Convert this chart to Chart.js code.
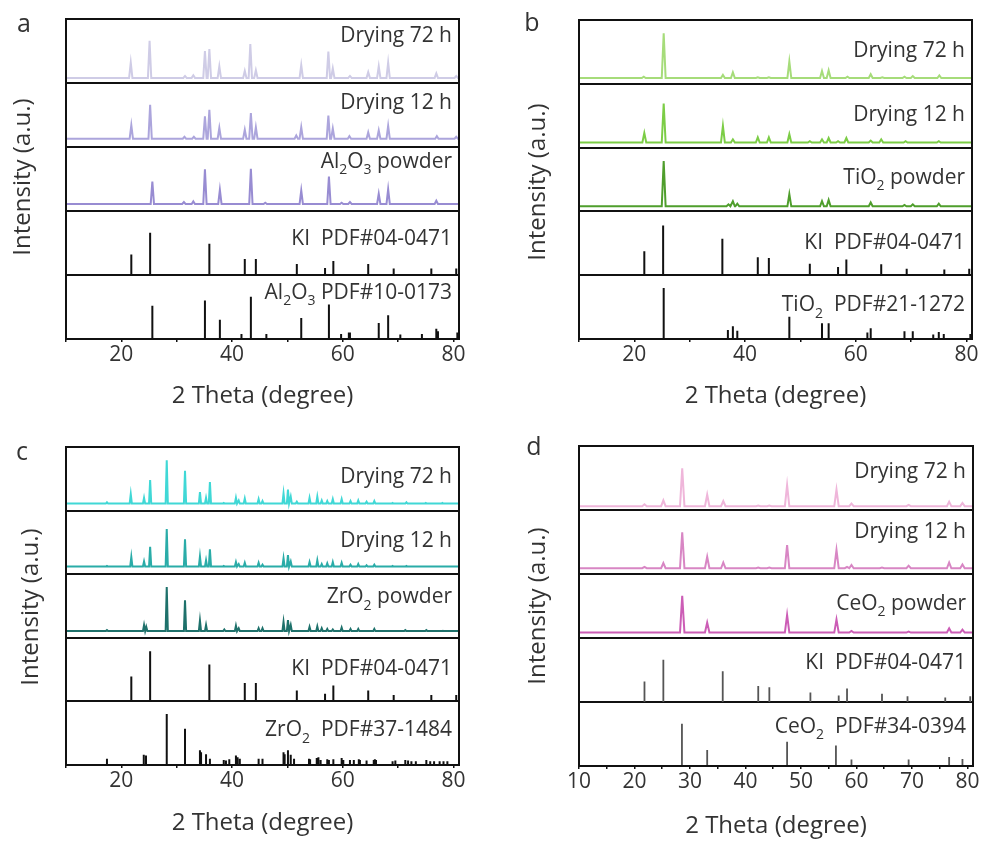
<!DOCTYPE html>
<html>
<head>
<meta charset="utf-8">
<title>XRD patterns</title>
<script src="https://cdn.jsdelivr.net/npm/chart.js@4.4.1/dist/chart.umd.min.js"></script>
<style>
  html, body { margin: 0; padding: 0; background: #fff; }
  #page { position: relative; width: 984px; height: 841px; overflow: hidden; }
  .panel { position: absolute; }
</style>
</head>
<body>
<div id="page">
  <div class="panel" style="left:0;top:0;width:492px;height:420px"><canvas id="chartA"></canvas></div>
  <div class="panel" style="left:492px;top:0;width:492px;height:420px"><canvas id="chartB"></canvas></div>
  <div class="panel" style="left:0;top:420px;width:492px;height:421px"><canvas id="chartC"></canvas></div>
  <div class="panel" style="left:492px;top:420px;width:492px;height:421px"><canvas id="chartD"></canvas></div>
</div>
<script>
// XRD figure: four panels, each with three measured patterns and two reference stick patterns

const X_MIN = 10;
const X_MAX = 81;

// peaks are [2theta, height]; height is the fraction of the sub-box, measured from its bottom
// ---- panel a: Al2O3 ----
const aDry72 = [[21.7,0.32],[25.1,0.66],[31.5,0.11],[33.0,0.12],[35.1,0.50],[35.9,0.53],[37.7,0.26],[42.3,0.19],[43.3,0.61],[44.3,0.20],[52.5,0.28],[57.4,0.49],[58.2,0.23],[61.3,0.11],[64.6,0.17],[66.5,0.26],[68.2,0.32],[76.9,0.15],[80.5,0.11]];
const aDry12 = [[21.8,0.34],[25.2,0.66],[31.4,0.16],[33.1,0.16],[35.1,0.48],[35.9,0.58],[37.7,0.30],[42.3,0.27],[43.4,0.53],[44.3,0.31],[51.6,0.18],[52.5,0.31],[57.4,0.49],[58.2,0.29],[61.2,0.17],[64.6,0.23],[66.5,0.26],[68.2,0.33],[77.0,0.17],[80.5,0.16]];
const aPowder = [[25.6,0.46],[31.3,0.14],[33.0,0.15],[35.1,0.65],[37.8,0.33],[43.4,0.66],[46.0,0.13],[52.5,0.32],[57.5,0.54],[59.8,0.13],[61.3,0.14],[66.5,0.27],[68.2,0.34],[76.9,0.16]];
const aBaselines = [0.08, 0.13, 0.11];
const aKI = [[21.8,0.32],[25.2,0.66],[35.9,0.49],[42.3,0.25],[44.3,0.25],[51.7,0.17],[56.8,0.11],[58.3,0.22],[64.6,0.17],[69.2,0.10],[76.0,0.10],[80.5,0.10]];
const aRef = [[25.6,0.52],[35.1,0.60],[37.8,0.30],[41.7,0.08],[43.4,0.66],[46.2,0.08],[52.5,0.33],[57.5,0.54],[59.7,0.08],[61.1,0.10],[61.3,0.10],[66.5,0.25],[68.2,0.37],[70.4,0.07],[74.3,0.08],[76.9,0.16],[77.2,0.12],[80.7,0.10]];
const aLabels = ['Drying 72 h', 'Drying 12 h', 'Al_2O_3 powder', 'KI  PDF#04-0471', 'Al_2O_3 PDF#10-0173'];

// ---- panel b: TiO2 ----
const bDry72 = [[21.7,0.11],[25.3,0.79],[36.0,0.14],[37.8,0.18],[42.3,0.10],[44.3,0.10],[48.0,0.35],[53.9,0.20],[55.1,0.21],[58.5,0.11],[62.7,0.15],[64.8,0.10],[68.8,0.11],[70.3,0.12],[75.1,0.13]];
const bDry12 = [[21.8,0.23],[25.3,0.69],[36.0,0.34],[37.8,0.13],[42.3,0.16],[44.3,0.16],[48.0,0.21],[51.7,0.10],[53.9,0.13],[55.1,0.15],[56.8,0.10],[58.3,0.15],[62.7,0.11],[64.6,0.13],[69.0,0.10],[75.0,0.10]];
const bPowder = [[25.3,0.79],[37.0,0.11],[37.8,0.16],[38.6,0.12],[48.0,0.27],[53.9,0.16],[55.1,0.18],[62.7,0.14],[68.8,0.10],[70.3,0.11],[75.0,0.12]];
const bBaselines = [0.09, 0.08, 0.08];
const bKI = [[21.8,0.375],[25.2,0.78],[35.9,0.57],[42.3,0.28],[44.3,0.27],[51.7,0.18],[56.8,0.13],[58.3,0.245],[64.6,0.17],[69.2,0.10],[76.0,0.09],[80.5,0.10]];
const bRef = [[25.3,0.80],[36.9,0.14],[37.8,0.20],[38.6,0.13],[48.0,0.35],[53.9,0.245],[55.1,0.245],[62.1,0.10],[62.7,0.17],[68.8,0.12],[70.3,0.12],[74.0,0.07],[75.0,0.11],[75.9,0.08],[80.7,0.08]];
const bLabels = ['Drying 72 h', 'Drying 12 h', 'TiO_2 powder', 'KI  PDF#04-0471', 'TiO_2  PDF#21-1272'];

// ---- panel c: ZrO2 ----
const cDry72 = [[17.4,0.13],[21.7,0.26],[24.1,0.20],[25.2,0.48],[28.2,0.79],[31.5,0.625],[34.2,0.29],[35.3,0.20],[36.0,0.45],[38.5,0.12],[40.7,0.20],[41.2,0.16],[42.3,0.19],[44.8,0.18],[45.5,0.15],[49.3,0.27],[50.1,0.33],[50.6,0.22],[51.7,0.14],[54.0,0.20],[55.4,0.22],[56.2,0.16],[57.2,0.15],[58.2,0.18],[59.8,0.18],[61.4,0.15],[62.8,0.16],[64.3,0.14],[65.7,0.15],[69.0,0.12],[71.5,0.13],[75.0,0.12],[78.0,0.12]];
const cDry12 = [[17.4,0.13],[21.8,0.27],[24.1,0.20],[25.2,0.43],[28.2,0.71],[31.5,0.55],[34.2,0.28],[35.3,0.22],[36.0,0.39],[38.5,0.13],[40.7,0.19],[41.2,0.16],[42.3,0.18],[44.8,0.18],[45.5,0.15],[49.3,0.25],[50.1,0.30],[50.6,0.20],[54.0,0.19],[55.4,0.22],[56.2,0.16],[57.2,0.17],[58.2,0.19],[59.8,0.18],[61.4,0.15],[62.8,0.16],[64.3,0.14],[65.7,0.15],[69.0,0.13],[71.5,0.13],[75.0,0.12],[78.0,0.12]];
const cPowder = [[17.4,0.12],[24.1,0.20],[24.5,0.17],[28.2,0.80],[31.5,0.59],[34.2,0.27],[35.3,0.20],[38.6,0.13],[40.7,0.19],[41.2,0.15],[44.8,0.15],[45.5,0.15],[49.3,0.25],[50.1,0.28],[50.6,0.20],[54.0,0.17],[55.4,0.18],[56.2,0.15],[57.2,0.14],[58.2,0.13],[59.8,0.16],[61.4,0.14],[62.8,0.14],[65.7,0.14],[71.3,0.12],[75.1,0.12],[78.1,0.11]];
const cBaselines = [0.11, 0.12, 0.105];
const cKI = [[21.8,0.39],[25.2,0.79],[35.9,0.58],[42.3,0.29],[44.3,0.29],[51.7,0.17],[56.8,0.12],[58.3,0.25],[64.6,0.17],[69.2,0.10],[76.0,0.10],[80.5,0.10]];
const cRef = [[17.4,0.10],[24.05,0.16],[24.45,0.15],[28.2,0.80],[31.5,0.57],[34.2,0.23],[34.4,0.20],[35.3,0.17],[36.0,0.10],[38.5,0.08],[38.9,0.07],[39.5,0.09],[40.7,0.15],[41.0,0.12],[41.4,0.10],[44.8,0.10],[45.5,0.10],[49.3,0.20],[49.5,0.17],[50.1,0.23],[50.6,0.16],[51.2,0.10],[53.9,0.10],[54.1,0.09],[55.3,0.11],[55.6,0.12],[56.0,0.08],[57.2,0.09],[57.5,0.08],[58.3,0.09],[59.8,0.11],[60.1,0.08],[61.3,0.08],[62.0,0.08],[62.9,0.09],[63.1,0.08],[64.3,0.07],[65.6,0.08],[65.8,0.09],[66.0,0.08],[69.0,0.06],[69.5,0.07],[71.3,0.08],[71.8,0.07],[72.4,0.06],[73.2,0.06],[75.1,0.08],[75.8,0.06],[76.5,0.06],[77.5,0.06],[78.2,0.06],[78.9,0.06]];
const cLabels = ['Drying 72 h', 'Drying 12 h', 'ZrO_2 powder', 'KI  PDF#04-0471', 'ZrO_2  PDF#37-1484'];

// ---- panel d: CeO2 ----
const dDry72 = [[21.8,0.09],[25.2,0.15],[28.6,0.65],[33.1,0.24],[36.0,0.14],[42.3,0.07],[44.3,0.07],[47.5,0.39],[56.4,0.32],[59.1,0.10],[69.4,0.08],[76.7,0.13],[79.1,0.11]];
const dDry12 = [[21.8,0.11],[25.2,0.17],[28.6,0.65],[33.1,0.27],[36.0,0.18],[42.3,0.10],[44.3,0.10],[47.5,0.45],[51.7,0.09],[56.4,0.375],[58.3,0.11],[59.1,0.14],[64.6,0.10],[69.4,0.13],[76.7,0.18],[79.1,0.15]];
const dPowder = [[28.6,0.66],[33.1,0.24],[47.5,0.36],[56.4,0.29],[59.1,0.11],[69.4,0.10],[76.7,0.15],[79.1,0.13]];
const dBaselines = [0.06, 0.09, 0.085];
const dKI = [[21.8,0.32],[25.2,0.66],[35.9,0.48],[42.3,0.25],[44.3,0.23],[51.7,0.15],[56.8,0.10],[58.3,0.21],[64.6,0.13],[69.2,0.09],[76.0,0.07],[80.5,0.09]];
const dRef = [[28.55,0.66],[33.1,0.25],[47.5,0.38],[56.3,0.32],[59.1,0.10],[69.4,0.10],[76.7,0.14],[79.1,0.11]];
const dLabels = ['Drying 72 h', 'Drying 12 h', 'CeO_2 powder', 'KI  PDF#04-0471', 'CeO_2  PDF#34-0394'];

const FONT = '"Open Sans", "DejaVu Sans", sans-serif';
const TEXT = '#333';

Chart.defaults.font.family = FONT;
Chart.defaults.color = TEXT;

// measured patterns: flat baseline with a narrow peak at each position
function patternPoints(peaks, base, hw, slot) {
    const pts = [{x: X_MIN, y: slot + base}];
    peaks.forEach(([pos, h]) => {
        pts.push({x: pos - hw, y: slot + base});
        pts.push({x: pos, y: slot + h});
        pts.push({x: pos + hw, y: slot + base});
    });
    pts.push({x: X_MAX, y: slot + base});
    return pts;
}

// reference cards: vertical sticks from the sub-box bottom, split by gaps
function stickPoints(sticks, slot) {
    const pts = [];
    sticks.forEach(([pos, h]) => {
        pts.push({x: pos, y: slot}, {x: pos, y: slot + h}, {x: pos, y: null});
    });
    return pts;
}

// text with "_" marking a subscript character, right aligned
function drawRich(ctx, markup, right, baseline, size) {
    const parts = [];
    for (let i = 0; i < markup.length; i++) {
        if (markup[i] === '_' && i + 1 < markup.length) {
            parts.push({t: markup[i + 1], sub: true});
            i++;
        } else {
            parts.push({t: markup[i], sub: false});
        }
    }
    const subSize = Math.round(size * 0.68);
    let total = 0;
    parts.forEach(p => {
        ctx.font = `${p.sub ? subSize : size}px ${FONT}`;
        p.w = ctx.measureText(p.t).width;
        total += p.w;
    });
    let x = right - total;
    ctx.textAlign = 'left';
    ctx.textBaseline = 'alphabetic';
    parts.forEach(p => {
        ctx.font = `${p.sub ? subSize : size}px ${FONT}`;
        ctx.fillText(p.t, x, baseline + (p.sub ? size * 0.3 : 0));
        x += p.w;
    });
}

const xrdDecor = {
    id: 'xrdDecor',
    afterDatasetsDraw(chart, args, opts) {
        const {ctx, chartArea: ca, scales: {y}} = chart;
        ctx.save();
        ctx.strokeStyle = '#111';
        ctx.lineWidth = 2;
        ctx.strokeRect(ca.left, ca.top, ca.right - ca.left, ca.bottom - ca.top);

        ctx.fillStyle = TEXT;
        opts.labels.forEach((txt, i) => {
            const top = y.getPixelForValue(5 - i);
            drawRich(ctx, txt, ca.right - 7, top + opts.labelDy[i], 21);
        });

        ctx.font = `25px ${FONT}`;
        ctx.textAlign = 'center';
        ctx.textBaseline = 'middle';
        ctx.fillText(opts.letter, opts.letterPos[0], opts.letterPos[1]);

        ctx.translate(opts.yTitlePos[0], opts.yTitlePos[1]);
        ctx.rotate(-Math.PI / 2);
        ctx.font = `24px ${FONT}`;
        ctx.fillText('Intensity (a.u.)', 0, 0);
        ctx.restore();
    }
};

function makePanel(canvasId, p) {
    const datasets = [];
    // slots from bottom: 0 reference, 1 KI, 2 powder, 3 drying 12 h, 4 drying 72 h
    const measured = [p.dry72, p.dry12, p.powder];
    measured.forEach((peaks, i) => {
        datasets.push({
            data: patternPoints(peaks, p.baselines[i], p.halfWidth, 4 - i),
            borderColor: p.colors[i],
            borderWidth: 2
        });
    });
    [p.ki, p.ref].forEach((sticks, i) => {
        datasets.push({
            data: stickPoints(sticks, 1 - i),
            borderColor: p.stickColor,
            borderWidth: p.stickWidth,
            spanGaps: false
        });
    });

    new Chart(document.getElementById(canvasId), {
        type: 'line',
        data: {datasets},
        options: {
            responsive: true,
            maintainAspectRatio: false,
            animation: false,
            events: [],
            layout: {padding: {left: p.pad[0], right: p.pad[1], top: p.pad[2], bottom: 0}},
            elements: {point: {radius: 0}, line: {tension: 0}},
            plugins: {
                legend: {display: false},
                tooltip: {enabled: false},
                xrdDecor: {
                    labels: p.labels,
                    labelDy: p.labelDy,
                    letter: p.letter,
                    letterPos: p.letterPos,
                    yTitlePos: p.yTitlePos
                }
            },
            scales: {
                x: {
                    type: 'linear',
                    min: X_MIN,
                    max: X_MAX,
                    border: {display: false},
                    grid: {drawOnChartArea: false, tickLength: 3, color: '#111', lineWidth: 1.5},
                    ticks: {
                        stepSize: p.tickStep,
                        includeBounds: false,
                        autoSkip: false,
                        maxRotation: 0,
                        padding: 0,
                        color: TEXT,
                        font: {size: 21},
                        callback: v => (v % p.labelStep === 0 ? v : '')
                    },
                    title: {
                        display: true,
                        text: '2 Theta (degree)',
                        color: TEXT,
                        font: {size: 24},
                        padding: {top: p.titlePad[0], bottom: p.titlePad[1]}
                    }
                },
                y: {
                    min: 0,
                    max: 5,
                    border: {display: false},
                    grid: {color: '#111', lineWidth: 2, drawTicks: false},
                    ticks: {display: false, stepSize: 1}
                }
            }
        },
        plugins: [xrdDecor]
    });
}

makePanel('chartA', {
    dry72: aDry72, dry12: aDry12, powder: aPowder, baselines: aBaselines, ki: aKI, ref: aRef, labels: aLabels,
    colors: ['#cfcce6', '#aca5dc', '#988cd2'], stickColor: '#111', stickWidth: 2, halfWidth: 0.3,
    pad: [66, 33, 19], titlePad: [14.4, 9.6], tickStep: 10, labelStep: 20,
    labelDy: [23, 26, 21, 34, 24], letter: 'a', letterPos: [24, 25], yTitlePos: [23, 177]
});
makePanel('chartB', {
    dry72: bDry72, dry12: bDry12, powder: bPowder, baselines: bBaselines, ki: bKI, ref: bRef, labels: bLabels,
    colors: ['#a6dc7a', '#7ccd46', '#4f9e2c'], stickColor: '#111', stickWidth: 2, halfWidth: 0.35,
    pad: [87, 12, 20], titlePad: [14.4, 9.6], tickStep: 10, labelStep: 20,
    labelDy: [37, 37, 36, 38, 36], letter: 'b', letterPos: [40, 24], yTitlePos: [46, 182]
});
makePanel('chartC', {
    dry72: cDry72, dry12: cDry12, powder: cPowder, baselines: cBaselines, ki: cKI, ref: cRef, labels: cLabels,
    colors: ['#40d8d6', '#2aaca8', '#1e716b'], stickColor: '#111', stickWidth: 2, halfWidth: 0.2,
    pad: [66, 33, 27], titlePad: [15.4, 3.6], tickStep: 10, labelStep: 20,
    labelDy: [36, 36, 29, 37, 35], letter: 'c', letterPos: [22, 33], yTitlePos: [31, 187]
});
makePanel('chartD', {
    dry72: dDry72, dry12: dDry12, powder: dPowder, baselines: dBaselines, ki: dKI, ref: dRef, labels: dLabels,
    colors: ['#efb6da', '#d886c4', '#cc5db6'], stickColor: '#555', stickWidth: 1.8, halfWidth: 0.4,
    pad: [87, 11, 26], titlePad: [18, 0], tickStep: 5, labelStep: 10,
    labelDy: [32, 28, 36, 31, 31], letter: 'd', letterPos: [42, 28], yTitlePos: [46, 186]
});
</script>
</body>
</html>
